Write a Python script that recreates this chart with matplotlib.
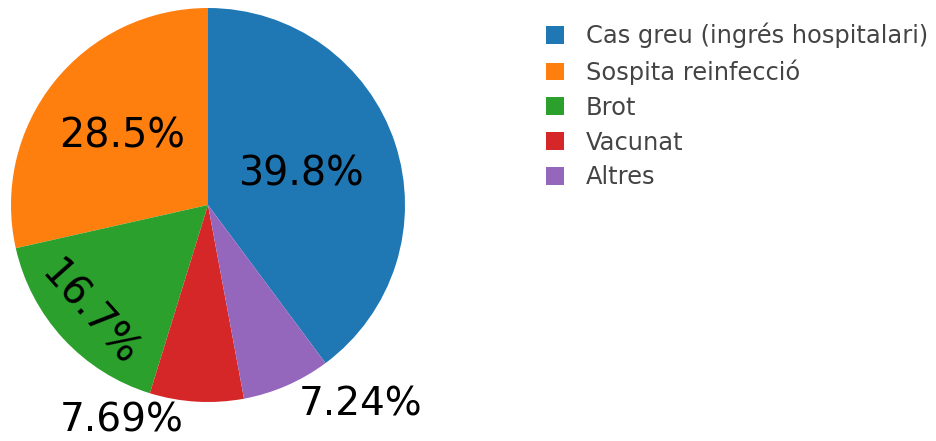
import numpy as np
import matplotlib.pyplot as plt
from matplotlib.patches import Patch

categories = ['Cas greu (ingrés hospitalari)', 'Sospita reinfecció', 'Brot', 'Vacunat', 'Altres']
percent = [39.8, 28.5, 16.7, 7.69, 7.24]
colors = ['#1f77b4', '#ff7f0e', '#2ca02c', '#d62728', '#9467bd']

fig = plt.figure(figsize=(9.36, 4.41), dpi=100)
ax = fig.add_axes([11/936, 39/441, 394/936, 394/441])

share = np.array(percent) / sum(percent)
start = 90 - 360 * share[0]
wedges, _ = ax.pie(percent, colors=colors, startangle=start, counterclock=True,
                   radius=1, wedgeprops=dict(linewidth=0))
ax.set_xlim(-1, 1)
ax.set_ylim(-1, 1)
ax.set_aspect('equal')
ax.axis('off')

# text inside big slices, outside for the small ones
inside = {0: (0.5, 0), 1: (0.56, 0), 2: (0.82, 1)}
for i, w in enumerate(wedges):
    mid = np.deg2rad((w.theta1 + w.theta2) / 2)
    txt = f'{percent[i]:.3g}%'
    if i in inside:
        r, rot = inside[i]
        angle = np.rad2deg(mid) - 271 if rot else 0
        ax.text(r * np.cos(mid), r * np.sin(mid), txt, fontsize=28.5, ha='center', va='center',
                rotation=angle, rotation_mode='anchor', color='black')
    else:
        r = 1.03
        ha = 'right' if np.cos(mid) < 0 else 'left'
        dx = -0.065 if ha == 'right' else 0.05
        ax.text(r * np.cos(mid) + dx, r * np.sin(mid) + 0.03, txt, fontsize=28, ha=ha, va='top',
                color='black', clip_on=False)

handles = [Patch(facecolor=c, edgecolor='none') for c in colors]
leg = fig.legend(handles, categories, loc='upper left', bbox_to_anchor=(546/936, 1 - 23/441),
                 frameon=False, fontsize=17.4, handlelength=0.75, handleheight=0.75,
                 handletextpad=0.9, labelspacing=0.45, borderaxespad=0, borderpad=0)
for t in leg.get_texts():
    t.set_color('#444444')

fig.savefig('out.png', dpi=100)
